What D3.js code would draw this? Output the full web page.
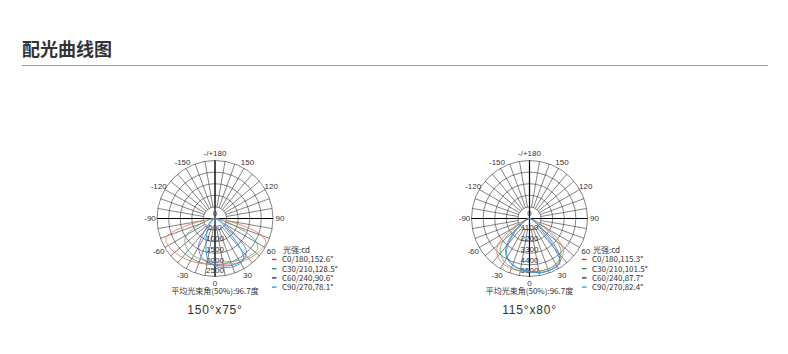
<!DOCTYPE html>
<html>
<head>
<meta charset="utf-8">
<script src="https://cdn.jsdelivr.net/npm/d3@7"></script>
<style>
  body { margin: 0; background: #fff; }
  text { font-family: "Liberation Sans", Arial, sans-serif; }
  .cjk { font-family: "Noto Sans CJK SC", "Noto Sans", sans-serif; }
</style>
</head>
<body>
<script>
//gamma angles (degrees from nadir) shared by every half-curve
var gamma = [0, 10, 20, 30, 35, 40, 45, 50, 55, 60, 65, 70, 75, 80, 90];

//chart A: 150°x75°  (left half / right half of each C plane, cd)
var aC0   = [1960, 1990, 2040, 2110, 2150, 2190, 2230, 2270, 2310, 2330, 2330, 2200, 1450, 500, 0];
var aC180 = [1960, 2000, 2080, 2170, 2210, 2260, 2310, 2350, 2390, 2420, 2420, 2150, 1350, 450, 0];
var aC30  = [1860, 1860, 1860, 1850, 1830, 1800, 1750, 1680, 1580, 1400, 1050, 650, 320, 150, 0];
var aC210 = [1860, 1900, 1980, 2080, 2130, 2180, 2230, 2260, 2250, 2050, 1600, 900, 400, 150, 0];
var aC60  = [2000, 1920, 1740, 1420, 1050, 700, 480, 340, 240, 170, 120, 80, 50, 30, 0];
var aC240 = [2000, 2080, 2140, 2170, 2150, 2060, 1900, 1250, 750, 450, 280, 170, 100, 50, 0];
var aC90  = [2050, 1780, 1150, 700, 520, 380, 280, 200, 150, 110, 80, 60, 40, 25, 0];
var aC270 = [2050, 2150, 2220, 2220, 2160, 1750, 950, 550, 350, 230, 150, 100, 60, 35, 0];

//chart B: 115°x80°
var bC0   = [5000, 5050, 5050, 4980, 4850, 4650, 4400, 3900, 3000, 1900, 1000, 450, 200, 100, 0];
var bC180 = [5000, 5050, 5080, 5100, 5000, 4800, 4550, 4000, 3100, 2000, 1050, 450, 200, 100, 0];
var bC30  = [5050, 5050, 4950, 4750, 4550, 4300, 3900, 3100, 2100, 1300, 700, 330, 150, 70, 0];
var bC210 = [5050, 5100, 5100, 5000, 4850, 4600, 4200, 3400, 2300, 1400, 750, 350, 150, 70, 0];
var bC60  = [5000, 4900, 4700, 4300, 3950, 3400, 2600, 1800, 1100, 600, 350, 200, 100, 50, 0];
var bC240 = [5000, 5200, 5250, 5200, 5000, 4300, 2900, 1700, 1000, 550, 300, 150, 80, 40, 0];
var bC90  = [5000, 4900, 4650, 4200, 3800, 3100, 2200, 1500, 900, 500, 280, 160, 90, 40, 0];
var bC270 = [5000, 5250, 5280, 5250, 5050, 3600, 1900, 1200, 750, 450, 260, 150, 80, 40, 0];

var ringsA = [500, 1000, 1500, 2000, 2500];
var ringsB = [1100, 2200, 3300, 4400, 5500];
var angleTicks = [-150, -120, -90, -60, -30, 0, 30, 60, 90, 120, 150, 180];
var legendA = ["C0/180,152.6°", "C30/210,128.5°", "C60/240,90.6°", "C90/270,78.1°"];
var legendB = ["C0/180,115.3°", "C30/210,101.5°", "C60/240,87.7°", "C90/270,82.4°"];
var beamText = "平均光束角(50%):96.7度";

var legendColors = ["#e8262a", "#1f9646", "#272482", "#14a0e6"];
var curveColors = ["#f47c5a", "#5fb072", "#7468c8", "#1f9fe6"];

var width = 788,
    height = 354;

var svg = d3.select("body")
    .append("svg")
    .attr("width", width)
    .attr("height", height);

svg.append("rect").attr("width", width).attr("height", height).attr("fill", "#fff");

//page title and rule
svg.append("text")
    .attr("class", "cjk")
    .attr("x", 22)
    .attr("y", 56)
    .attr("font-size", 18)
    .attr("font-weight", "bold")
    .attr("fill", "#333")
    .text("配光曲线图");

svg.append("line")
    .attr("x1", 22).attr("x2", 768)
    .attr("y1", 65.5).attr("y2", 65.5)
    .attr("stroke", "#999")
    .attr("stroke-width", 1.2);

drawChart({
    cx: 215, cy: 218.5, rings: ringsA,
    planes: [[aC0, aC180], [aC30, aC210], [aC60, aC240], [aC90, aC270]],
    legend: legendA, legendX: 282, size: "150°x75°"
});
drawChart({
    cx: 529.5, cy: 218.5, rings: ringsB,
    planes: [[bC0, bC180], [bC30, bC210], [bC60, bC240], [bC90, bC270]],
    legend: legendB, legendX: 592, size: "115°x80°"
});

function drawChart(cfg){
    var R = 58;
    var g = svg.append("g").attr("transform", "translate(" + cfg.cx + "," + cfg.cy + ")");

    var rScale = d3.scaleLinear()
        .domain([0, cfg.rings[cfg.rings.length - 1]])
        .range([0, R]);

    //signed gamma (right positive, 0 = down) -> lineRadial angle
    var aScale = d3.scaleLinear()
        .domain([-180, 180])
        .range([2 * Math.PI, 0]);

    function pos(deg, r){
        var a = aScale(deg);
        return [r * Math.sin(a), -r * Math.cos(a)];
    }

    //rings
    g.selectAll(".ring")
        .data(cfg.rings)
        .enter()
        .append("circle")
        .attr("r", function(d){ return rScale(d); })
        .attr("fill", "none")
        .attr("stroke", "#333")
        .attr("stroke-width", 0.6);

    //spokes every 10 degrees
    var r0 = rScale(cfg.rings[0]);
    g.selectAll(".spoke")
        .data(d3.range(-170, 190, 10))
        .enter()
        .append("line")
        .attr("x1", function(d){ return pos(d, r0)[0]; })
        .attr("y1", function(d){ return pos(d, r0)[1]; })
        .attr("x2", function(d){ return pos(d, R)[0]; })
        .attr("y2", function(d){ return pos(d, R)[1]; })
        .attr("stroke", "#333")
        .attr("stroke-width", 0.6);

    //main axes
    g.append("line").attr("x1", -R).attr("x2", R).attr("y1", 0).attr("y2", 0)
        .attr("stroke", "#000").attr("stroke-width", 1.2);
    g.append("line").attr("x1", 0).attr("x2", 0).attr("y1", -R).attr("y2", R)
        .attr("stroke", "#000").attr("stroke-width", 1.2);

    //angle labels
    g.selectAll(".alabel")
        .data(angleTicks)
        .enter()
        .append("text")
        .attr("x", function(d){ return pos(d, R + 7)[0]; })
        .attr("y", function(d){ return pos(d, R + 7)[1]; })
        .attr("dy", "0.35em")
        .attr("text-anchor", "middle")
        .attr("font-size", 8)
        .attr("fill", "#333")
        .text(function(d){ return d == 180 ? "-/+180" : d; });

    //intensity labels
    g.append("text").attr("x", 0).attr("y", -2.5)
        .attr("text-anchor", "middle").attr("font-size", 8).attr("fill", "#333").text("0");
    g.selectAll(".rlabel")
        .data(cfg.rings)
        .enter()
        .append("text")
        .attr("x", 0)
        .attr("y", function(d, i){ return rScale(d) - i * 0.8; })
        .attr("text-anchor", "middle")
        .attr("font-size", 8)
        .attr("fill", "#333")
        .text(function(d){ return d; });

    //curves
    var line = d3.lineRadial()
        .angle(function(d){ return aScale(d.g); })
        .radius(function(d){ return rScale(d.v); })
        .curve(d3.curveCatmullRom.alpha(0.5));

    cfg.planes.forEach(function(p, i){
        var pts = [];
        for (var k = gamma.length - 1; k > 0; k--) pts.push({g: -gamma[k], v: p[0][k]});
        for (var k = 0; k < gamma.length; k++) pts.push({g: gamma[k], v: p[1][k]});
        g.append("path")
            .attr("d", line(pts))
            .attr("fill", "none")
            .attr("stroke", curveColors[i])
            .attr("stroke-width", 0.9);
    });

    //legend
    var lx = cfg.legendX;
    svg.append("text").attr("class", "cjk")
        .attr("x", lx + 1).attr("y", 253)
        .attr("font-size", 8).attr("fill", "#333")
        .text("光强:cd");
    var items = svg.selectAll(null)
        .data(cfg.legend)
        .enter()
        .append("g")
        .attr("transform", function(d, i){ return "translate(" + lx + "," + (259.5 + i * 9.2) + ")"; });
    items.append("line")
        .attr("x1", -10).attr("x2", -5.5)
        .attr("stroke", function(d, i){ return legendColors[i]; })
        .attr("stroke-width", 1.3);
    items.append("text").attr("class", "cjk")
        .attr("x", 0).attr("dy", "0.35em")
        .attr("font-size", 8).attr("fill", "#333")
        .text(function(d){ return d; });

    //captions
    svg.append("text").attr("class", "cjk")
        .attr("x", cfg.cx).attr("y", 293.5)
        .attr("text-anchor", "middle")
        .attr("font-size", 8).attr("fill", "#333")
        .text(beamText);
    svg.append("text")
        .attr("x", cfg.cx).attr("y", 313.5)
        .attr("text-anchor", "middle")
        .attr("font-size", 12)
        .attr("letter-spacing", 0.8)
        .attr("fill", "#333")
        .text(cfg.size);
}
</script>
</body>
</html>
